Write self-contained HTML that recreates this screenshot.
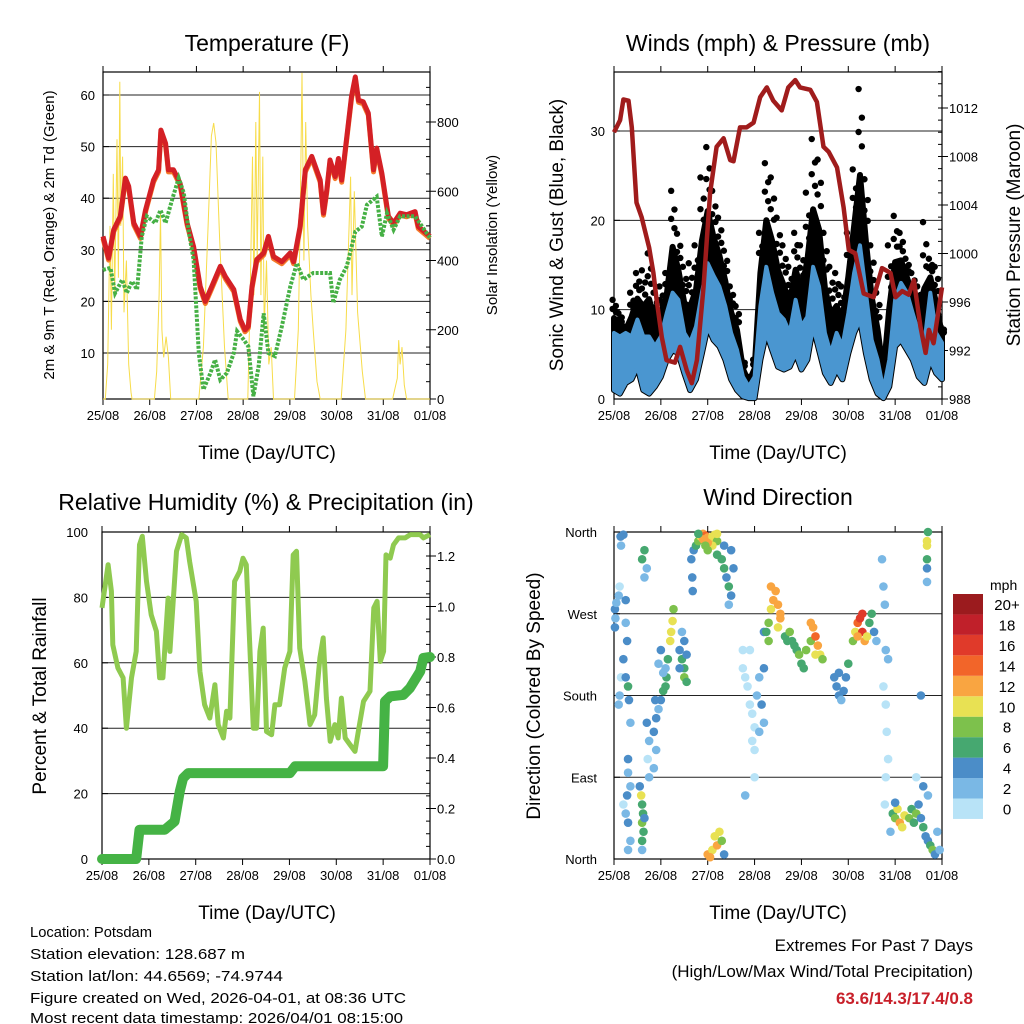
<!DOCTYPE html>
<html><head><meta charset="utf-8"><style>
html,body{margin:0;padding:0;background:#fff}
svg{display:block;font-family:"Liberation Sans",Arial,sans-serif}
</style></head><body>
<svg id="s" width="1024" height="1024" viewBox="0 0 1024 1024">
<rect width="1024" height="1024" fill="#fff"/>
<g font-size="23" text-anchor="middle" fill="#000">
<text x="267" y="51">Temperature (F)</text>
<text x="778" y="51">Winds (mph) &amp; Pressure (mb)</text>
<text x="266" y="510">Relative Humidity (%) &amp; Precipitation (in)</text>
<text x="778" y="505">Wind Direction</text>
</g>
<g font-size="19" text-anchor="middle">
<text x="267" y="459">Time (Day/UTC)</text>
<text x="778" y="459">Time (Day/UTC)</text>
<text x="267" y="919">Time (Day/UTC)</text>
<text x="778" y="919">Time (Day/UTC)</text>
<text transform="translate(54,235) rotate(-90)" font-size="15">2m &amp; 9m T (Red, Orange) &amp; 2m Td (Green)</text>
<text transform="translate(497,235) rotate(-90)" font-size="15">Solar Insolation (Yellow)</text>
<text transform="translate(563,235) rotate(-90)">Sonic Wind &amp; Gust (Blue, Black)</text>
<text transform="translate(1020,235) rotate(-90)">Station Pressure (Maroon)</text>
<text transform="translate(46,696) rotate(-90)">Percent &amp; Total Rainfall</text>
<text transform="translate(540,696) rotate(-90)">Direction (Colored By Speed)</text>
</g>
<g font-size="15">
<text x="30" y="937" textLength="122" lengthAdjust="spacingAndGlyphs">Location: Potsdam</text>
<text x="30" y="959" textLength="215" lengthAdjust="spacingAndGlyphs">Station elevation: 128.687 m</text>
<text x="30" y="981" textLength="253" lengthAdjust="spacingAndGlyphs">Station lat/lon: 44.6569; -74.9744</text>
<text x="30" y="1003" textLength="376" lengthAdjust="spacingAndGlyphs">Figure created on Wed, 2026-04-01, at 08:36 UTC</text>
<text x="30" y="1023" textLength="373" lengthAdjust="spacingAndGlyphs">Most recent data timestamp: 2026/04/01 08:15:00</text>
</g>
<g font-size="17" text-anchor="end">
<text x="973" y="951">Extremes For Past 7 Days</text>
<text x="973" y="977">(High/Low/Max Wind/Total Precipitation)</text>
<text x="973" y="1004" font-weight="bold" fill="#c8202a">63.6/14.3/17.4/0.8</text>
</g>
</svg>
<script>
const dayLabels=["25/08","26/08","27/08","28/08","29/08","30/08","31/08","01/08"];
const tempDays=[0,0.12,0.23,0.37,0.48,0.55,0.66,0.8,0.91,1.08,1.19,1.24,1.34,1.4,1.51,1.65,1.8,1.94,2.08,2.19,2.33,2.51,2.62,2.8,2.94,3.04,3.11,3.19,3.29,3.44,3.54,3.65,3.83,4.01,4.08,4.22,4.33,4.47,4.65,4.72,4.79,4.86,4.97,5.04,5.11,5.22,5.32,5.4,5.47,5.57,5.68,5.79,5.86,5.97,6.11,6.22,6.36,6.5,6.68,6.75,7];
const tempVals=[32.6,28.4,33.9,36.5,43.9,42.3,35.2,32.6,37.7,43.5,45.5,53.2,50.6,45.5,45.5,42.9,35.2,30.6,22.9,20,22.9,26.8,24.8,22.3,16.5,14.5,15.2,22.9,28.1,29.4,32.6,28.7,27.7,29.4,27.7,34.5,45.5,48.1,43.5,37.1,41.6,47.4,44.2,47.7,43.5,51.9,59.7,63.5,59,58.7,56.5,45.5,49.7,44.8,36.5,35.2,37.1,36.8,37.4,34.5,32.6];
const dewDays=[0,0.16,0.26,0.41,0.51,0.62,0.73,0.83,0.94,1.12,1.23,1.34,1.48,1.62,1.73,1.84,1.94,2.05,2.15,2.3,2.4,2.51,2.65,2.8,2.87,3.01,3.11,3.22,3.33,3.44,3.54,3.68,3.83,4.01,4.15,4.29,4.5,4.72,4.86,4.93,5.07,5.22,5.4,5.54,5.65,5.86,5.97,6.08,6.22,6.36,6.68,7];
const dewVals=[26.1,26.5,21.6,24.2,21.6,23.9,22.3,32.6,36.5,35.2,37.7,35.2,39.7,43.9,41,33.2,28.1,10,2.9,6.1,8.7,4.8,6.1,10,14.2,12.6,11.3,1.6,7.4,17.7,10,9.4,15.2,22.9,27.4,24.2,25.5,25.5,25.5,19.7,24.2,26.8,33.5,34.5,38.7,40.3,32.6,37.1,33.9,36.5,36.5,32.3];
const solarDays=[0,0.05,0.1,0.15,0.18,0.22,0.25,0.3,0.33,0.36,0.38,0.42,0.45,0.5,0.55,0.6,0.62,1.1,1.15,1.2,1.23,1.26,1.3,1.35,1.4,1.45,1.55,2.05,2.15,2.25,2.32,2.37,2.42,2.5,2.6,2.68,3.1,3.15,3.2,3.23,3.27,3.3,3.35,3.38,3.42,3.45,3.5,3.55,3.6,3.65,4.1,4.18,4.22,4.26,4.3,4.34,4.38,4.45,4.5,4.58,4.65,5.1,5.2,5.3,5.33,5.38,5.45,5.55,5.62,6.2,6.3,6.33,6.36,6.4,6.45,6.5,7];
const solarVals=[0,0,100,500,200,650,300,750,350,916,500,700,250,400,100,20,0,0,80,300,537,200,120,180,120,0,0,0,150,500,760,797,740,450,150,0,0,300,700,300,800,400,887,300,700,200,400,100,150,0,0,200,500,942,400,800,500,300,200,50,0,0,200,642,300,600,250,80,0,0,60,170,100,150,40,0,0];
const pressDays=[0,0.13,0.2,0.31,0.38,0.48,0.59,0.66,0.75,0.84,0.91,1.02,1.12,1.3,1.41,1.55,1.66,1.77,1.91,2.05,2.19,2.34,2.48,2.55,2.69,2.83,2.98,3.12,3.26,3.4,3.58,3.72,3.87,3.97,4.19,4.33,4.47,4.58,4.76,4.9,5.01,5.15,5.33,5.54,5.72,5.9,6.01,6.15,6.29,6.4,6.54,6.65,6.72,6.82,7];
const pressVals=[1010,1011,1012.7,1012.6,1010.4,1004.2,1003,1001.9,1000.5,998.4,996.2,993.1,991.2,991,992.3,990.4,989.3,991.2,997.2,1005,1008.8,1009.5,1007.7,1007.6,1010.4,1010.4,1010.8,1012.9,1013.7,1012.6,1011.8,1013.7,1014.3,1013.7,1013.5,1012.5,1008.8,1008.4,1007.1,1003.8,1000.3,1000,996.7,996.4,998.8,998.4,996.4,996.9,996.6,997.8,994,991.8,993.7,992.6,997.2];
const windDays=[0,0.125,0.25,0.375,0.5,0.625,0.75,0.875,1,1.125,1.25,1.375,1.5,1.625,1.75,1.875,2,2.125,2.25,2.375,2.5,2.625,2.75,2.875,3,3.125,3.25,3.375,3.5,3.625,3.75,3.875,4,4.125,4.25,4.375,4.5,4.625,4.75,4.875,5,5.125,5.25,5.375,5.5,5.625,5.75,5.875,6,6.125,6.25,6.375,6.5,6.625,6.75,6.875,7];
const windHigh=[7.4,7,7.4,7,8.9,7,7,5.9,7,9.6,11.9,11.1,7.4,6.3,8.1,11.9,15.2,13.8,12.6,10.4,7.4,5.5,2.5,1.4,2.5,10.4,14.8,11.9,9.6,8.9,7.4,11.1,8.1,9.2,14.8,12.6,7.4,5.1,7.4,5.9,9.6,14.1,17.2,11.9,6.6,4.4,1,4.4,11.1,13,11.9,9.6,7.4,6.3,11.9,7.4,6.3];
const windLow=[1,0.6,1.8,2.2,3.6,1,0.6,1.4,2.5,4.4,5.5,5.1,2.9,1,2.2,5.1,8.1,6.6,5.9,4.4,2.2,1,0.3,0.1,0.1,4.4,7.4,5.5,3.6,3.3,3.6,5.1,3.3,4.4,8.1,5.5,2.9,1.8,3.3,2.2,5.1,7.4,8.9,5.1,2.2,0.6,0.1,1.4,5.9,6.6,5.5,4.4,2.5,1.8,4.4,2.9,2.2];
const gustHigh=[11.1,9.6,8.1,11.9,14.1,14.4,16.3,11.9,12.6,14.1,23.3,18.5,14.8,15.2,17.2,24.8,28.2,23.3,20.3,16.6,12.6,10.4,4.4,2.5,4.4,18.6,26.4,24.8,20.3,17.2,14.8,18.6,17.2,23.1,29.1,26.8,18.6,14.8,14.1,12.6,18.6,25.7,34.7,24.6,17.2,11.9,5.1,17.2,20.5,18.6,15.7,14.1,12.6,19.8,15.7,14.8,8.1];
const dirDays=[0.02,0.03,0.02,0.05,0.1,0.12,0.14,0.15,0.2,0.1,0.12,0.15,0.2,0.25,0.25,0.28,0.25,0.3,0.32,0.35,0.3,0.3,0.35,0.28,0.3,0.35,0.3,0.25,0.2,0.6,0.62,0.6,0.63,0.6,0.58,0.65,0.55,0.6,0.65,0.6,0.7,0.65,0.75,0.72,0.75,0.7,0.85,0.9,0.95,1,1.05,1.1,1.12,1.15,1.2,1.22,1.25,1.27,1.1,0.9,0.85,0.95,1,1.05,0.88,1.4,1.45,1.5,1.5,1.55,1.55,1.5,1.45,1.4,1.65,1.67,1.68,1.7,1.75,1.8,1.85,1.9,1.95,2,2.05,2.1,2.15,2.2,2.1,2,1.9,1.95,2.2,2.3,2.35,2.4,2.45,2.5,2.55,2.5,2.35,2,1.8,2.2,2.45,2,2.1,2.15,2.2,2.25,2.3,2.35,2.05,2.75,2.8,2.85,2.9,2.95,3,3.05,3.1,3.15,3.2,2.75,2.9,3,3,2.8,3.2,3.2,2.95,3.1,3.25,3.3,3.35,3.4,3.45,3.5,3.55,3.35,3.5,3.55,3.3,3.65,3.7,3.8,3.85,3.9,3.95,4,4.05,4.1,3.75,4.2,4.25,4.3,4.35,4.4,4.45,4.3,4.2,4.7,4.75,4.8,4.85,4.9,4.95,5,4.8,5.1,5.15,5.2,5.25,5.3,5.35,5.4,5.45,5.5,5.55,5.6,5.3,5.2,5.72,5.75,5.78,5.8,5.8,5.82,5.85,5.8,5.78,5.85,5.75,5.95,6,6.05,6.1,6.15,6.2,6.3,6.35,6.4,6.45,6.5,6.55,6.6,6.65,6.7,6.75,6.8,6.85,6.9,6.95,6.7,6.6,5.9,6,6.7,6.68,6.68,6.68,6.68,6.68,6.55,6.45];
const dirDeg=[275,265,255,282,290,300,355,345,357,170,180,200,220,285,260,240,200,190,175,150,110,95,80,70,40,20,10,50,60,60,50,40,30,20,70,45,80,10,340,330,320,310,90,110,130,150,140,155,165,175,185,190,200,220,240,250,262,275,210,120,100,215,230,205,175,230,220,210,200,195,225,240,250,210,330,310,295,340,345,350,355,358,356,354,352,355,357,350,345,348,352,345,335,330,320,310,300,290,320,340,345,340,358,358,280,5,10,25,15,30,20,5,2,210,200,190,170,160,145,180,200,170,150,230,230,120,90,70,250,210,130,140,250,260,275,285,295,280,270,300,255,265,240,245,240,240,235,230,225,215,210,230,250,240,255,245,235,225,220,225,260,200,190,180,175,185,200,215,205,240,250,260,265,250,240,245,260,270,250,240,270,245,330,300,280,230,170,140,110,90,60,220,190,50,45,55,40,35,48,45,55,40,50,60,45,35,25,20,15,10,5,30,10,70,80,30,62,360,350,345,330,320,305,180,90];
const dirSpd=[4,3,4,2,3,1,4,2,4,2,3,1,4,4,3,4,5,6,4,2,4,3,2,4,4,3,2,2,1,6,7,8,6,6,10,4,4,3,7,6,3,3,2,1,2,4,4,4,3,5,6,6,6,7,10,10,10,8,2,3,2,2,4,3,4,5,6,7,8,6,4,4,3,4,4,4,4,5,6,8,10,12,14,13,12,11,10,9,10,12,13,9,7,6,6,5,6,4,4,4,5,9,7,11,3,12,10,10,12,10,8,4,13,1,0,1,0,1,1,2,3,4,3,1,0,0,1,2,4,4,0,2,7,9,11,12,13,12,12,12,10,13,8,7,6,6,6,7,8,6,7,8,8,9,13,14,12,10,9,10,12,5,4,4,3,4,5,6,5,8,11,14,17,16,12,10,7,6,4,3,17,12,3,2,2,2,1,1,0,1,0,2,1,6,8,10,12,10,11,8,7,6,8,4,5,6,4,5,6,8,4,3,2,3,4,3,4,7,10,10,6,4,2,4,1];
const rhDays=[0,0.13,0.2,0.23,0.34,0.45,0.52,0.63,0.73,0.8,0.86,0.95,1.05,1.16,1.23,1.3,1.41,1.45,1.59,1.7,1.8,1.87,2.01,2.09,2.19,2.3,2.41,2.48,2.59,2.66,2.73,2.83,2.94,3.01,3.08,3.15,3.23,3.3,3.37,3.44,3.51,3.62,3.69,3.79,3.9,4.01,4.08,4.15,4.22,4.33,4.44,4.54,4.65,4.72,4.79,4.87,4.97,5.04,5.11,5.19,5.29,5.4,5.47,5.58,5.72,5.8,5.87,5.94,6.01,6.06,6.15,6.22,6.33,6.47,6.58,6.79,6.86,7];
const rhVals=[76.8,90,81.9,65.5,58.4,55.4,40,55.4,63.5,96.1,98.7,84.9,74.7,69.6,55.4,55.4,79.8,63.5,94.1,99.2,98.2,91,78.8,57.4,47.2,43.1,53.3,41.1,37,45.2,43.1,84.9,88,92,90,66.6,40,40,63.5,70.6,39,38,47.2,47.2,58.4,63.5,93,94.1,64.5,54.3,41.1,44.1,61.5,67.6,49.2,36,41.1,37,49.2,37,35,32.9,39,48.2,51.3,76.8,78.8,60.4,63.5,93,92,96.1,98.2,98.2,99.2,99.2,98.2,99.2];
const rainDays=[0,0.73,0.8,1.34,1.55,1.66,1.73,1.84,4.01,4.12,6,6.04,6.15,6.43,6.57,6.79,6.86,7];
const rainVals=[0,0,0.116,0.116,0.149,0.268,0.32,0.34,0.34,0.367,0.367,0.624,0.644,0.65,0.677,0.743,0.796,0.8];
const speedLabels=["0","2","4","6","8","10","12","14","16","18","20+"];
const speedColors=["#b8e3f7","#7ab8e5","#4b8dc8","#46a870","#7dc14c","#e8e153","#f9a541","#f26529","#e03a2a","#c0202a","#9b1b1e"];

const NS="http://www.w3.org/2000/svg";
const svg=document.getElementById('s');
function el(tag,attrs,parent){const e=document.createElementNS(NS,tag);for(const k in attrs)e.setAttribute(k,attrs[k]);(parent||svg).appendChild(e);return e;}
function lin(d0,d1,r0,r1){return v=>r0+(v-d0)/(d1-d0)*(r1-r0);}
function path(xs,ys,sx,sy){return xs.map((x,i)=>(i?'L':'M')+sx(x).toFixed(1)+','+sy(ys[i]).toFixed(1)).join('');}
function txt(x,y,s,anchor,size,parent){const t=el('text',{x:x,y:y,'text-anchor':anchor,'font-size':size},parent);t.textContent=s;return t;}

function frame(P,name){
  const g=el('g',{});
  
  
  const sx=lin(0,7,P.x0,P.x1);
  for(let i=0;i<8;i++){
    const x=sx(i);
    el('line',{x1:x,x2:x,y1:P.y0,y2:P.y0-6,stroke:'#000','stroke-width':1},g);
    el('line',{x1:x,x2:x,y1:P.y1,y2:P.y1+6,stroke:'#000','stroke-width':1},g);
    const t=txt(x,P.y1+21,dayLabels[i],'middle',13,g);
    
    
  }
  return {g,sx};
}
function box(P,g){el('rect',{x:P.x0,y:P.y0,width:P.x1-P.x0,height:P.y1-P.y0,fill:'none',stroke:'#000','stroke-width':1.2},g);}
function grid(P,g,vals,sy,labels,lx,anchor){
  vals.forEach((v,i)=>{const y=sy(v);
    if(y>P.y0+1&&y<P.y1-1)el('line',{x1:P.x0,x2:P.x1,y1:y,y2:y,stroke:'#222','stroke-width':1},g);
    el('line',{x1:P.x0,x2:P.x0+6,y1:y,y2:y,stroke:'#000'},g);
    const t=txt(lx,y+5,labels[i],anchor,13,g);
    
    });
}
function rightAxis(P,g,vals,sy,labels,minor){
  minor.forEach(v=>{const y=sy(v);el('line',{x1:P.x1,x2:P.x1-4,y1:y,y2:y,stroke:'#000'},g);});
  vals.forEach((v,i)=>{const y=sy(v);el('line',{x1:P.x1,x2:P.x1+6,y1:y,y2:y,stroke:'#000'},g);
    const t=txt(P.x1+7,y+5,labels[i],'start',13,g);
    
    });
}
function range(a,b,s){const r=[];for(let v=a;v<=b+1e-9;v+=s)r.push(+v.toFixed(3));return r;}

// Panel 1 temperature
{const P={x0:103,x1:430,y0:72,y1:399};const {g,sx}=frame(P,'temperature');
 const sy=lin(0,60,404.6,95), ss=lin(0,800,399,122);
 grid(P,g,[10,20,30,40,50,60],sy,["10","20","30","40","50","60"],95,'end');
 rightAxis(P,g,[0,200,400,600,800],ss,["0","200","400","600","800"],range(0,900,50));
 const s=el('path',{d:path(solarDays,solarVals,sx,ss),fill:'none',stroke:'#f7dc4a','stroke-width':1});
 
 const o=el('path',{d:path(tempDays,tempVals.map(v=>v-0.4),sx,sy),fill:'none',stroke:'#f47a2a','stroke-width':5,'stroke-linejoin':'round'});
 
 const r=el('path',{d:path(tempDays,tempVals,sx,sy),fill:'none',stroke:'#d42025','stroke-width':5,'stroke-linejoin':'round'});
 
 const d=el('path',{d:path(dewDays,dewVals,sx,sy),fill:'none',stroke:'#46b045','stroke-width':4,'stroke-dasharray':'3 1.5'});
 
 box(P,g);}

// Panel 2 winds
{const P={x0:614,x1:942,y0:72,y1:399};const {g,sx}=frame(P,'winds');
 const sy=lin(0,30,399,131), sp=lin(988,1012,399,108);
 grid(P,g,[0,10,20,30],sy,["0","10","20","30"],605,'end');
 rightAxis(P,g,[988,992,996,1000,1004,1008,1012],sp,["988","992","996","1000","1004","1008","1012"],range(988,1015,1));
 const top=gustHigh.map((v,i)=>v*0.45+windHigh[i]*0.55);
 const gb=el('path',{d:path(windDays,top,sx,sy)+path(windDays.slice().reverse(),windLow.slice().reverse(),sx,sy).replace('M','L')+'Z',fill:'#000',stroke:'#000','stroke-width':6,'stroke-linejoin':'round'});
 
 windDays.forEach((dd,i)=>{[gustHigh[i],(gustHigh[i]*2+top[i])/3,(gustHigh[i]+top[i])/2,(gustHigh[i]+top[i]*2)/3].forEach((v,k)=>{
   const c=el('circle',{cx:sx(dd+(k%2?0.04:-0.03)),cy:sy(v),r:3.2,fill:'#000'});
   });});
 const wb=el('path',{d:path(windDays,windHigh,sx,sy)+path(windDays.slice().reverse(),windLow.slice().reverse(),sx,sy).replace('M','L')+'Z',fill:'#4a96d0',stroke:'#4a96d0','stroke-width':4,'stroke-linejoin':'round'});
 
 const pl=el('path',{d:path(pressDays,pressVals,sx,sp),fill:'none',stroke:'#a01c1c','stroke-width':4.5,'stroke-linejoin':'round'});
 
 box(P,g);}

// Panel 3 RH
{const P={x0:102,x1:430,y0:532,y1:859};const {g,sx}=frame(P,'humidity');
 const sy=lin(0,100,859,532), sr=lin(0,1,859,606.5);
 grid(P,g,[0,20,40,60,80,100],sy,["0","20","40","60","80","100"],88,'end');
 rightAxis(P,g,[0,0.2,0.4,0.6,0.8,1.0,1.2],sr,["0.0","0.2","0.4","0.6","0.8","1.0","1.2"],range(0,1.25,0.05));
 const rh=el('path',{d:path(rhDays,rhVals,sx,sy),fill:'none',stroke:'#8fca50','stroke-width':5,'stroke-linejoin':'round'});
 
 const rn=el('path',{d:path(rainDays,rainVals,sx,sr),fill:'none',stroke:'#45b345','stroke-width':10,'stroke-linejoin':'round','stroke-linecap':'round'});
 
 box(P,g);}

// Panel 4 direction
{const P={x0:614,x1:942,y0:532,y1:859};const {g,sx}=frame(P,'direction');
 const sy=lin(0,360,859,532);
 grid(P,g,[0,90,180,270,360],sy,["North","East","South","West","North"],597,'end');
 dirDays.forEach((dd,i)=>{const ci=Math.min(10,Math.floor(dirSpd[i]/2));
   const c=el('circle',{cx:sx(dd),cy:sy(dirDeg[i]),r:4.3,fill:speedColors[ci]});
   });
 box(P,g);
 const lg=el('g',{});
 
 
 const t=txt(990,590,'mph','start',14,lg);
 for(let i=0;i<11;i++){const y=594+(10-i)*20.45;
   const r=el('rect',{x:953,y:y,width:30,height:20.45,fill:speedColors[i]},lg);
   
   const l=txt(1007,y+16,speedLabels[i],'middle',15,lg);
   }
}
</script>
</body></html>
